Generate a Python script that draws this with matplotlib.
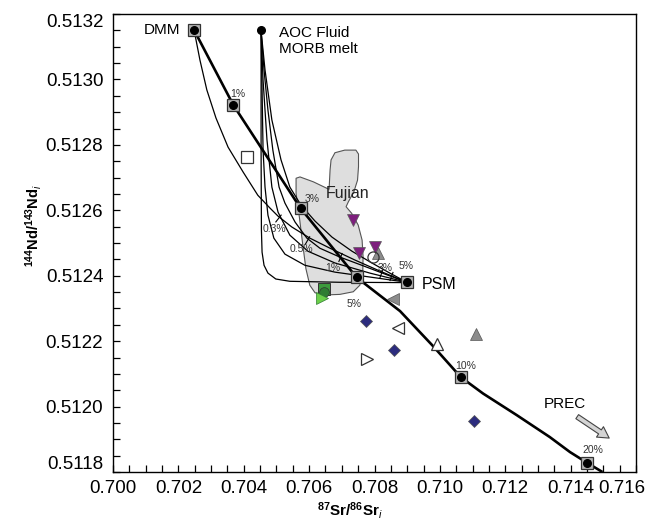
import matplotlib
matplotlib.use("Agg")
import matplotlib.pyplot as plt
from matplotlib.patches import Polygon
from matplotlib.ticker import MultipleLocator, FormatStrFormatter
from matplotlib.transforms import ScaledTranslation

plt.rcParams['font.family'] = ['Liberation Sans', 'DejaVu Sans']
plt.rcParams['mathtext.fontset'] = 'custom'
plt.rcParams['mathtext.rm'] = 'Liberation Sans'
plt.rcParams['mathtext.it'] = 'Liberation Sans:italic'
plt.rcParams['mathtext.bf'] = 'Liberation Sans:bold'

# End members
dmm = (0.70248, 0.51315)
aoc = (0.70453, 0.51315)
psm = (0.70899, 0.51238)

# DMM + sediment mixing line (thick) and its labelled steps
mix_x = [0.70248, 0.70368, 0.70574, 0.70745, 0.70878, 0.70979, 0.71064,
         0.71132, 0.71235, 0.71336, 0.71398, 0.71449, 0.71494]
mix_y = [0.513151, 0.512922, 0.512606, 0.512395, 0.512292, 0.512185, 0.512090,
         0.512040, 0.511974, 0.511907, 0.511861, 0.511829, 0.511802]
step_x = [0.70248, 0.70368, 0.70574, 0.70745, 0.71064, 0.71449, 0.70899]
step_y = [0.513151, 0.512922, 0.512606, 0.512395, 0.512090, 0.511829, 0.512380]
step_labels = ["1%", "3%", "5%", "10%", "20%"]
step_label_x = [0.70383, 0.70608, 0.70737, 0.71079, 0.71467]
step_label_y = [0.512955, 0.512636, 0.512315, 0.512124, 0.511867]

# Thin mixing curves ending at PSM
dmm_psm_x = [0.70248, 0.70266, 0.70287, 0.70315, 0.70352, 0.70398, 0.70443,
             0.70480, 0.70505, 0.70547, 0.70602, 0.70664, 0.70740, 0.70817, 0.70899]
dmm_psm_y = [0.513151, 0.513059, 0.512968, 0.512882, 0.512793, 0.512717, 0.512646,
             0.512607, 0.512582, 0.512549, 0.512515, 0.512484, 0.512448, 0.512414, 0.512380]

aoc_c_x = [0.70453, 0.70453, 0.70454, 0.70456, 0.70462, 0.70474, 0.70498,
           0.70541, 0.70694, 0.70899]
aoc_c_y = [0.513148, 0.512784, 0.512539, 0.512472, 0.512432, 0.512408, 0.512390,
           0.512383, 0.512380, 0.512379]

aoc_d_x = [0.70453, 0.70456, 0.70459, 0.70465, 0.70474, 0.70492, 0.70526,
           0.70587, 0.70679, 0.70786, 0.70899]
aoc_d_y = [0.513148, 0.512968, 0.512784, 0.512671, 0.512585, 0.512515, 0.512466,
           0.512432, 0.512411, 0.512396, 0.512380]

aoc_e_x = [0.70453, 0.70459, 0.70471, 0.70486, 0.70505, 0.70541, 0.70596,
           0.70679, 0.70786, 0.70899]
aoc_e_y = [0.513148, 0.512998, 0.512815, 0.512671, 0.512594, 0.512524, 0.512475,
           0.512439, 0.512408, 0.512380]

aoc_b_x = [0.70453, 0.70462, 0.70474, 0.70489, 0.70508, 0.70526, 0.70557,
           0.70593, 0.70633, 0.70694, 0.70761, 0.70832, 0.70899]
aoc_b_y = [0.513148, 0.513029, 0.512906, 0.512784, 0.512671, 0.512622, 0.512564,
           0.512515, 0.512484, 0.512457, 0.512432, 0.512405, 0.512380]

aoc_f_x = [0.70453, 0.70465, 0.70486, 0.70514, 0.70541, 0.70575, 0.70618,
           0.70670, 0.70731, 0.70792, 0.70847, 0.70899]
aoc_f_y = [0.513148, 0.513029, 0.512876, 0.512754, 0.512671, 0.512616, 0.512567,
           0.512518, 0.512475, 0.512439, 0.512408, 0.512380]

# Ticks on the thin curves
tick_x = [0.70505, 0.70593, 0.70694, 0.70820, 0.70850]
tick_y = [0.512576, 0.512509, 0.512457, 0.512408, 0.512399]
tick_labels = ["0.3%", "0.5%", "1%", "3%", "5%"]
tick_label_x = [0.70495, 0.70577, 0.70673, 0.70832, 0.70898]
tick_label_y = [0.512542, 0.512483, 0.512423, 0.512425, 0.512430]

# Fujian field
fujian_x = [0.70560, 0.70572, 0.70613, 0.70661, 0.70664, 0.70667, 0.70679, 0.70709,
            0.70743, 0.70751, 0.70751, 0.70748, 0.70737, 0.70720, 0.70713, 0.70730,
            0.70750, 0.70762, 0.70765, 0.70764, 0.70755, 0.70735, 0.70694, 0.70643,
            0.70618, 0.70602, 0.70590, 0.70580, 0.70570, 0.70560]
fujian_y = [0.512698, 0.512702, 0.512687, 0.512664, 0.512723, 0.512754, 0.512776, 0.512784,
            0.512784, 0.512772, 0.512733, 0.512692, 0.512657, 0.512626, 0.512611, 0.512591,
            0.512555, 0.512509, 0.512458, 0.512407, 0.512371, 0.512351, 0.512343, 0.512341,
            0.512348, 0.512371, 0.512422, 0.512499, 0.512580, 0.512652]

# Samples
purple_x = [0.70733, 0.70753, 0.70801]
purple_y = [0.512570, 0.512468, 0.512487]
navy_x = [0.70774, 0.70860, 0.71104]
navy_y = [0.512262, 0.512172, 0.511956]
grey_up_x = [0.70810, 0.71110]
grey_up_y = [0.512469, 0.512221]
grey_left_x = [0.70857]
grey_left_y = [0.512328]
open_sq_x = [0.70411]
open_sq_y = [0.512762]
open_circ_x = [0.70795]
open_circ_y = [0.512457]
open_left_x = [0.70872]
open_left_y = [0.512241]
open_right_x = [0.70776]
open_right_y = [0.512147]
open_up_x = [0.70990]
open_up_y = [0.512191]
green_sq = (0.70645, 0.512359)
green_circ = (0.70645, 0.512350)
green_right = (0.70639, 0.512331)

prec_tail = (0.71413, 0.511974)
prec_head = (0.71525, 0.511899)

fig = plt.figure(figsize=(6.51, 5.21), dpi=100)
ax = fig.add_axes([0.1736, 0.094, 0.8034, 0.8791])

ax.add_patch(Polygon(list(zip(fujian_x, fujian_y)), closed=True,
                     fc='#dedede', ec='#555555', lw=0.8, zorder=1))

thin = dict(color='k', lw=0.9, zorder=2)
for cx, cy in [(dmm_psm_x, dmm_psm_y), (aoc_c_x, aoc_c_y), (aoc_d_x, aoc_d_y),
               (aoc_e_x, aoc_e_y), (aoc_b_x, aoc_b_y), (aoc_f_x, aoc_f_y)]:
    ax.plot(cx, cy, **thin)

tick_angles = [-38, -30, -22, -20, -20]
for tx, ty, ang in zip(tick_x, tick_y, tick_angles):
    ax.plot(tx, ty, ls='none', marker=(2, 0, ang), ms=7, mec='k', mew=0.8, zorder=2)

ax.plot(mix_x, mix_y, color='k', lw=1.9, zorder=3)

ax.plot(step_x, step_y, ls='none', marker='s', ms=8, mfc='#b5b5b5', mec='#333333',
        mew=0.9, zorder=4)
ax.plot(step_x, step_y, ls='none', marker='o', ms=5.5, mfc='k', mec='k', zorder=5)
ax.plot(*aoc, ls='none', marker='o', ms=5.5, mfc='k', mec='k', zorder=5)

# Samples
ax.plot(open_sq_x, open_sq_y, ls='none', marker='s', ms=9, mfc='white', mec='#333333', mew=0.9, zorder=4)
ax.plot(purple_x, purple_y, ls='none', marker='v', ms=9, mfc='#7d1f7d', mec='#5a5a5a', mew=0.5, zorder=5)
ax.plot(grey_up_x, grey_up_y, ls='none', marker='^', ms=9, mfc='#8c8c8c', mec='#555555', mew=0.5, zorder=4)
ax.plot(open_circ_x, open_circ_y, ls='none', marker='o', ms=8, mfc='none', mec='#333333', mew=0.9, zorder=5)
ax.plot(grey_left_x, grey_left_y, ls='none', marker='<', ms=9, mfc='#8c8c8c', mec='#555555', mew=0.5, zorder=4)
ax.plot(navy_x, navy_y, ls='none', marker='D', ms=6.5, mfc='#2c2c7e', mec='#555555', mew=0.5, zorder=4)
ax.plot(open_left_x, open_left_y, ls='none', marker='<', ms=9, mfc='white', mec='#333333', mew=0.9, zorder=4)
ax.plot(open_right_x, open_right_y, ls='none', marker='>', ms=9, mfc='white', mec='#333333', mew=0.9, zorder=4)
ax.plot(open_up_x, open_up_y, ls='none', marker='^', ms=9, mfc='white', mec='#333333', mew=0.9, zorder=4)
ax.plot(*green_sq, ls='none', marker='s', ms=8, mfc='#3c9a3c', mec='#333333', mew=0.7, zorder=4)
ax.plot(*green_circ, ls='none', marker='o', ms=7, mfc='#2e7d32', mec='#333333', mew=0.5, zorder=5)
ax.plot(*green_right, ls='none', marker='>', ms=8, mfc='#6ccf4a', mec='#2e7d32', mew=0.5, zorder=6)

# Text
ax.text(0.70205, dmm[1], "DMM", ha='right', va='center', fontsize=11)
ax.text(0.70508, 0.513117, "AOC Fluid\nMORB melt", ha='left', va='center', fontsize=11)
ax.text(0.70945, 0.512374, "PSM", ha='left', va='center', fontsize=11.5)
ax.text(0.70719, 0.512650, "Fujian", ha='center', va='center', fontsize=11.5, color='#222222')
ax.text(0.71382, 0.512007, "PREC", ha='center', va='center', fontsize=11)

for lab, lx, ly in zip(step_labels, step_label_x, step_label_y):
    ax.text(lx, ly, lab, ha='center', va='center', fontsize=7.5, color='#333333')
for lab, lx, ly in zip(tick_labels, tick_label_x, tick_label_y):
    ax.text(lx, ly, lab, ha='center', va='center', fontsize=7.5, color='#333333')

ax.annotate('', xy=prec_head, xytext=prec_tail,
            arrowprops=dict(arrowstyle='simple,head_width=0.9,head_length=0.8,tail_width=0.35',
                            fc='#d4d4d4', ec='#444444', lw=0.8))

# Axes
ax.set_xlim(0.700, 0.716)
ax.set_ylim(0.5118, 0.5132)
ax.xaxis.set_major_locator(MultipleLocator(0.002))
ax.xaxis.set_minor_locator(MultipleLocator(0.0005))
ax.yaxis.set_major_locator(MultipleLocator(0.0002))
ax.yaxis.set_minor_locator(MultipleLocator(0.00005))
ax.xaxis.set_major_formatter(FormatStrFormatter('%.3f'))
ax.yaxis.set_major_formatter(FormatStrFormatter('%.4f'))
ax.tick_params(which='both', direction='in', length=5, width=0.9, labelsize=13.5,
               top=False, right=False)
ax.tick_params(axis='y', pad=7)
ax.tick_params(axis='x', pad=6)
for sp in ax.spines.values():
    sp.set_linewidth(1.0)

ax.set_xlabel(r'$^{\mathbf{87}}$Sr/$^{\mathbf{86}}$Sr$_{i}$', fontsize=11, fontweight='bold')
ax.set_ylabel(r'$^{\mathbf{144}}$Nd/$^{\mathbf{143}}$Nd$_{i}$', fontsize=10.5, fontweight='bold')
ax.xaxis.set_label_coords(0.453, -0.060)
ax.yaxis.set_label_coords(-0.132, 0.539)

# Nudge the end tick labels inwards so they clear the corners
fig.canvas.draw()
shifts = {'0.5118': (0, 7), '0.5132': (0, -5), '0.716': (-10, 0)}
for lab in ax.get_yticklabels() + ax.get_xticklabels():
    if lab.get_text() in shifts:
        dx, dy = shifts[lab.get_text()]
        lab.set_transform(lab.get_transform()
                          + ScaledTranslation(dx / 72, dy / 72, fig.dpi_scale_trans))

fig.savefig('out.png', dpi=100)
